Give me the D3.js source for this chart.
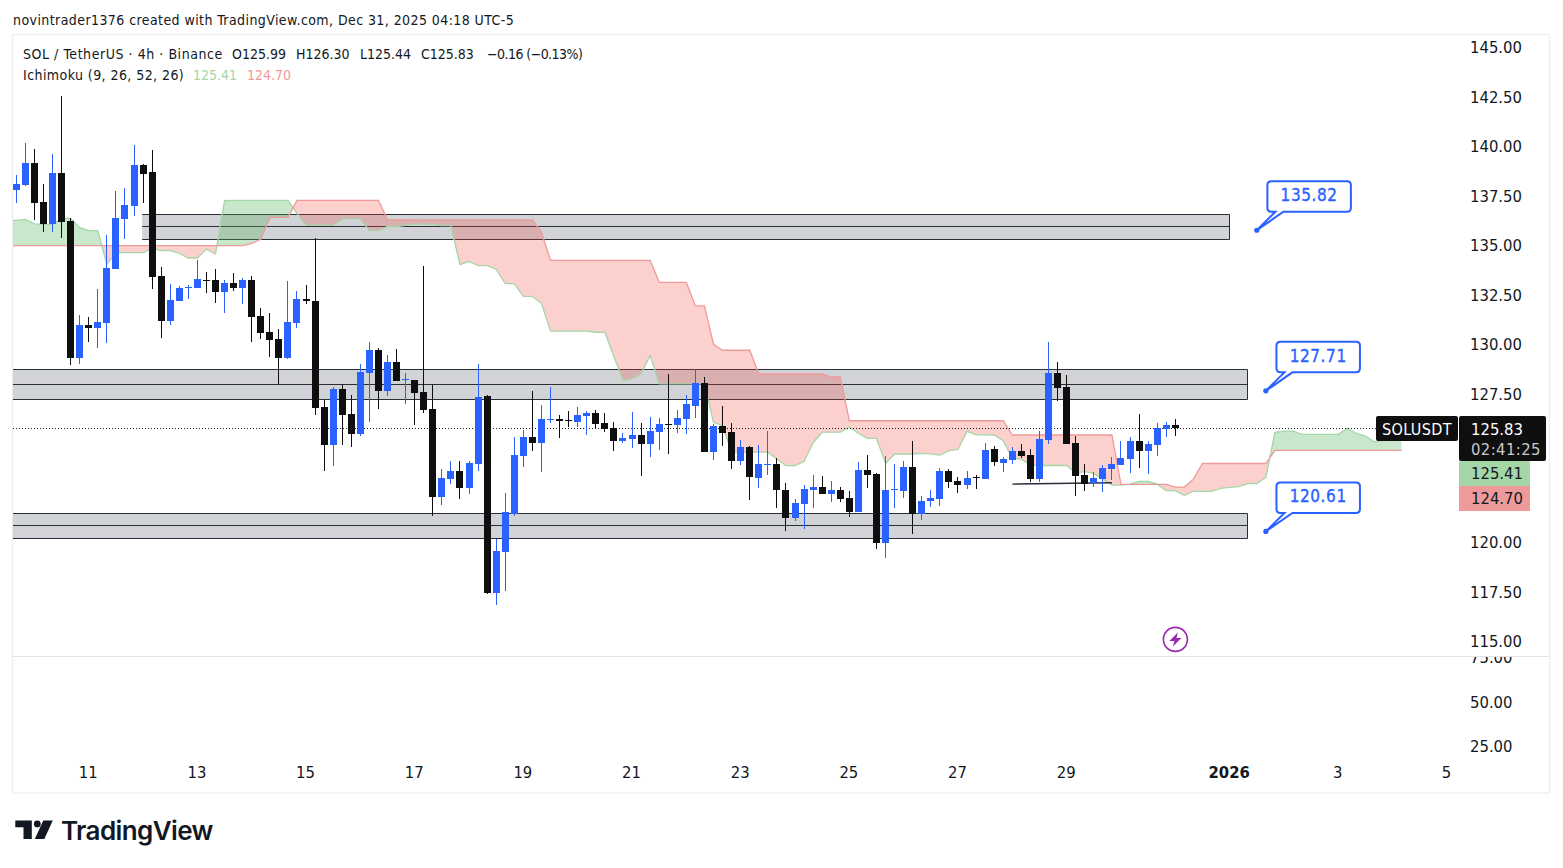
<!DOCTYPE html>
<html>
<head>
<meta charset="utf-8">
<script src="https://cdn.jsdelivr.net/npm/d3@7"></script>
<style>
  html, body { margin: 0; padding: 0; background: #fff; overflow: hidden; }
  svg { display: block; }
  text { font-family: "DejaVu Sans", sans-serif; font-stretch: condensed; fill: #131722; }
  .axis .domain { display: none; }
  .axis line { display: none; }
  .axis text { font-size: 16.5px; fill: #131722; font-family: "DejaVu Sans", sans-serif; font-stretch: condensed; }
</style>
</head>
<body>
<div id="chart"></div>
<script>
"use strict";

// candles, 4h bars
const opens = [
  137.85,138.11,139.22,137.25,136.14,138.71,136.29,129.37,131.04,130.88,
  131.14,133.86,136.39,137.05,139.12,138.76,133.51,131.24,132.25,132.90,
  132.90,133.31,133.31,132.70,133.16,132.90,133.31,131.49,130.68,130.33,
  129.37,131.14,132.35,132.24,126.89,124.97,127.80,126.54,125.53,128.61,
  129.77,127.70,129.16,128.25,128.25,127.65,126.79,122.35,123.25,123.66,
  122.80,124.01,127.45,117.50,119.57,121.49,124.42,125.38,125.07,126.23,
  126.28,126.23,126.13,126.44,126.59,126.09,125.84,125.18,125.28,125.48,
  125.03,125.63,126.04,125.99,126.29,126.95,128.11,124.62,125.94,125.63,
  124.17,124.88,123.31,123.97,124.02,122.70,121.29,122.00,122.70,122.86,
  122.50,122.70,122.30,121.59,123.71,123.51,120.03,122.70,122.65,123.87,
  121.49,122.14,122.24,123.66,123.15,122.95,123.36,123.25,124.77,124.06,
  124.21,124.67,124.47,123.25,125.22,128.61,127.90,125.07,123.46,123.05,
  123.25,123.76,123.96,124.26,125.17,124.67,124.97,125.78,125.99
];
const closes = [
  138.16,139.22,137.20,136.14,138.71,136.24,129.37,131.04,130.88,131.19,
  133.92,136.44,137.10,139.12,138.66,133.46,131.24,132.30,132.90,132.96,
  133.36,133.26,132.70,133.16,132.90,133.31,131.44,130.63,130.28,129.37,
  131.19,132.35,132.25,126.84,124.97,127.80,126.49,125.53,128.66,129.77,
  127.70,129.16,128.20,128.30,127.60,126.74,122.35,123.30,123.66,122.80,
  124.06,127.40,117.50,119.62,121.59,124.47,125.38,125.07,126.28,126.28,
  126.18,126.18,126.49,126.59,126.03,125.79,125.18,125.33,125.48,125.03,
  125.68,126.04,125.99,126.34,127.05,128.11,124.62,125.94,125.58,124.17,
  124.88,123.36,124.02,124.02,122.70,121.29,122.05,122.75,122.86,122.50,
  122.70,122.25,121.59,123.71,123.46,120.03,122.70,122.75,123.87,121.49,
  122.14,122.30,123.66,123.10,122.95,123.31,123.31,124.72,124.11,124.26,
  124.67,124.42,123.25,125.27,128.61,127.85,125.02,123.41,123.00,123.31,
  123.81,124.01,124.32,125.17,124.67,125.02,125.83,125.98,125.83
];
const highs = [
  138.61,140.23,139.93,138.16,139.67,142.60,136.44,131.54,131.44,132.85,
  135.58,137.80,137.96,140.13,139.17,139.87,133.97,133.11,133.01,133.06,
  134.32,133.71,133.86,133.31,133.66,133.41,133.51,131.89,131.64,130.83,
  133.26,132.75,133.06,135.43,127.24,127.90,128.00,127.50,129.06,130.17,
  129.87,129.52,129.82,128.61,128.25,134.01,128.00,123.76,124.16,124.16,
  124.16,129.06,127.50,120.22,122.55,125.38,125.73,127.70,126.99,127.90,
  126.49,126.69,126.89,126.69,126.74,126.59,126.14,125.58,126.64,126.09,
  126.39,126.34,128.56,126.74,127.50,128.82,128.41,126.04,126.95,126.09,
  125.23,124.93,124.98,125.68,124.32,123.06,122.25,122.96,123.46,123.41,
  123.16,122.86,122.65,124.12,124.47,123.56,124.42,124.02,124.17,125.18,
  122.40,122.70,123.81,123.76,123.36,123.66,123.46,125.07,124.92,124.37,
  124.87,125.02,124.77,125.68,130.17,129.16,128.51,125.43,124.01,123.61,
  123.96,124.37,125.17,125.38,126.54,125.17,126.08,126.13,126.30
];
const lows = [
  137.21,138.06,136.34,135.73,135.73,135.43,129.02,129.07,130.18,129.87,
  130.13,133.86,135.38,136.54,137.20,132.85,130.38,131.04,132.25,132.35,
  132.90,132.65,132.15,131.64,132.75,132.10,130.18,130.33,129.42,128.06,
  129.32,130.88,132.10,126.49,123.66,123.91,124.97,124.87,125.43,126.13,
  126.79,127.45,128.20,127.04,125.98,126.59,121.39,121.94,123.00,122.24,
  122.50,123.66,117.45,116.89,117.60,121.39,123.86,124.67,123.61,126.08,
  125.33,125.88,125.88,125.48,125.78,125.63,124.67,125.08,124.83,123.41,
  124.37,124.72,124.52,125.58,125.53,126.34,124.62,124.22,124.93,123.76,
  123.97,122.20,122.81,123.46,121.80,120.63,121.14,120.73,121.80,122.50,
  122.10,122.10,121.34,121.59,122.81,119.72,119.27,121.80,122.30,120.48,
  121.18,121.84,121.89,122.80,122.55,122.75,122.75,123.25,123.91,123.61,
  124.01,124.32,123.10,123.10,125.02,127.19,125.02,122.40,122.65,122.85,
  122.60,123.20,123.96,123.56,123.81,123.51,124.42,125.38,125.44
];

// ichimoku leading spans, first value is the bar before the first candle,
// they run 25 bars past the last candle
const leadA = [
  136.32,
  136.32,136.37,136.14,136.12,136.12,136.42,136.42,135.95,135.80,135.80,
  134.10,134.69,134.69,134.69,134.69,134.91,134.79,134.79,134.66,134.42,
  134.42,134.87,134.62,137.32,137.33,137.33,137.33,137.33,137.33,137.33,
  137.33,136.67,136.07,136.07,136.07,136.07,136.40,136.40,136.40,135.80,
  135.80,136.01,136.01,136.07,136.13,136.13,136.12,136.05,136.05,134.08,
  134.25,134.03,134.03,133.85,133.12,133.12,132.48,132.48,132.13,130.73,
  130.73,130.73,130.73,130.73,130.67,130.67,129.44,128.24,128.31,128.56,
  129.50,128.06,128.06,128.06,128.06,128.06,128.06,126.12,125.95,124.61,
  124.61,124.61,124.61,124.61,124.27,123.93,123.93,124.14,125.09,125.62,
  125.62,125.62,125.87,125.57,125.31,125.31,124.05,124.51,124.52,124.52,
  124.55,124.53,124.47,124.69,124.75,125.66,125.49,125.49,125.48,125.19,
  124.30,124.26,123.96,123.94,123.94,123.94,123.94,123.57,123.63,123.54,
  123.25,122.95,122.95,123.00,123.14,123.14,123.00,122.67,122.67,122.43,
  122.63,122.63,122.63,122.78,122.83,122.87,123.02,123.02,123.34,125.61,
  125.68,125.68,125.51,125.51,125.51,125.51,125.51,125.81,125.56,125.43,
  125.12,125.24,125.32,125.41
];
const leadB = [
  135.04,
  135.04,135.04,135.04,135.04,135.04,135.04,135.04,135.04,135.04,135.04,
  135.04,135.04,135.04,135.04,135.04,135.04,135.04,135.04,135.04,135.04,
  135.04,135.04,135.04,135.04,135.04,135.04,135.16,135.36,136.47,136.47,
  136.47,137.33,137.33,137.33,137.33,137.33,137.33,137.33,137.33,137.33,
  137.33,136.34,136.34,136.34,136.34,136.34,136.34,136.34,136.34,136.34,
  136.34,136.34,136.34,136.34,136.34,136.34,136.34,136.34,135.72,134.30,
  134.30,134.30,134.30,134.30,134.30,134.30,134.30,134.30,134.30,134.30,
  134.30,133.19,133.19,133.19,133.19,132.00,132.00,130.06,129.76,129.76,
  129.76,129.76,128.56,128.56,128.56,128.56,128.56,128.56,128.56,128.56,
  128.41,128.41,126.20,126.20,126.20,126.20,126.20,126.20,126.20,126.20,
  126.20,126.20,126.20,126.20,126.20,126.20,126.20,126.20,126.20,126.20,
  125.48,125.48,125.48,125.48,125.48,125.48,125.48,125.48,125.48,125.48,
  125.48,125.48,122.99,122.99,122.99,122.99,122.99,122.99,122.85,122.85,
  123.25,124.04,124.04,124.04,124.04,124.04,124.04,124.04,124.04,124.70,
  124.70,124.70,124.70,124.70,124.70,124.70,124.70,124.70,124.70,124.70,
  124.70,124.70,124.70,124.70
];

// drawn zones: [top, middle, bottom] in price, bar index start and end
const zoneLevels = [[136.63, 136.02, 135.36], [128.80, 128.04, 127.28], [121.53, 120.93, 120.26]];
const zoneBars = [[13.9, 134], [-5, 136], [-5, 136]];

const calloutBars = [137, 138, 138];
const calloutPrices = [135.82, 127.71, 120.61];

const trendBars = [110.0, 121];
const trendPrices = [123.0, 123.07];

// 125.00 and 122.50 sit under the price labels, so they are not drawn
const priceTicks = [145, 142.5, 140, 137.5, 135, 132.5, 130, 127.5, 120, 117.5, 115];
const volumeTicks = [75, 50, 25];
const dateBars = [8, 20, 32, 44, 56, 68, 80, 92, 104, 116, 134, 146, 158];
const dateLabels = ["11", "13", "15", "17", "19", "21", "23", "25", "27", "29", "2026", "3", "5"];

const lastPrice = 125.83;

const width = 1563;
const height = 868;
const upColor = "#2962ff";
const downColor = "#0f0f0f";

const svg = d3.select("#chart").append("svg").attr("width", width).attr("height", height);

const x = d3.scaleLinear().domain([0, 128]).range([16.3, 1175.3]);
const y = d3.scaleLinear().domain([145, 115]).range([48.5, 642.5]);
const yVolume = d3.scaleLinear().domain([75, 25]).range([657.5, 746.5]);

const crisp = (v) => Math.round(v);
const centerX = (i) => Math.floor(x(i)) + 0.5;

const defs = svg.append("defs");
defs.append("clipPath").attr("id", "plotClip")
  .append("rect").attr("x", 13).attr("y", 35).attr("width", 1445).attr("height", 621);
defs.append("clipPath").attr("id", "volumeClip")
  .append("rect").attr("x", 1460).attr("y", 657).attr("width", 90).attr("height", 130);

///////////////////////////////////
// frame and pane separator
///////////////////////////////////

svg.append("rect")
  .attr("x", 12.5).attr("y", 34.5).attr("width", 1537).attr("height", 758.5)
  .attr("fill", "none").attr("stroke", "#f0f0f2").attr("stroke-width", 1.5);
svg.append("line")
  .attr("x1", 13).attr("x2", 1549).attr("y1", 656.5).attr("y2", 656.5)
  .attr("stroke", "#e0e3eb");

const plot = svg.append("g").attr("clip-path", "url(#plotClip)");

///////////////////////////////////
// grey zones
///////////////////////////////////

zoneLevels.forEach((levels, k) => {
  const left = x(zoneBars[k][0]);
  const right = crisp(x(zoneBars[k][1])) - 0.5;
  const top = crisp(y(levels[0])) + 0.5;
  const mid = crisp(y(levels[1])) + 0.5;
  const bottom = crisp(y(levels[2])) + 0.5;
  plot.append("rect")
    .attr("x", left).attr("y", top)
    .attr("width", right - left).attr("height", bottom - top)
    .attr("fill", "#d2d3d7");
  // no border on the left side
  plot.append("path")
    .attr("d", `M${left},${top}H${right}V${bottom}H${left}M${left},${mid}H${right}`)
    .attr("fill", "none").attr("stroke", "#2a2e39");
});

///////////////////////////////////
// ichimoku cloud
///////////////////////////////////

const cloudBars = leadA.map((v, k) => k - 1);
const spanA = (i) => y(leadA[i + 1]);
const spanB = (i) => y(leadB[i + 1]);

defs.append("clipPath").attr("id", "aboveB").append("path")
  .attr("d", d3.area().x((i) => x(i)).y0(0).y1(spanB)(cloudBars));
defs.append("clipPath").attr("id", "belowB").append("path")
  .attr("d", d3.area().x((i) => x(i)).y0(height).y1(spanB)(cloudBars));

const cloudArea = d3.area().x((i) => x(i)).y0(spanB).y1(spanA);

plot.append("g").attr("clip-path", "url(#aboveB)").append("path")
  .attr("d", cloudArea(cloudBars))
  .attr("fill", "#4caf50").attr("fill-opacity", 0.3);
plot.append("g").attr("clip-path", "url(#belowB)").append("path")
  .attr("d", cloudArea(cloudBars))
  .attr("fill", "#f44336").attr("fill-opacity", 0.25);

plot.append("path")
  .attr("d", d3.line().x((i) => x(i)).y(spanA)(cloudBars))
  .attr("fill", "none").attr("stroke", "#a5d6a7").attr("stroke-width", 1.3);
plot.append("path")
  .attr("d", d3.line().x((i) => x(i)).y(spanB)(cloudBars))
  .attr("fill", "none").attr("stroke", "#ef9a9a").attr("stroke-width", 1.3);

// last price dotted line
plot.append("line")
  .attr("x1", 13).attr("x2", 1376)
  .attr("y1", crisp(y(lastPrice)) + 0.5).attr("y2", crisp(y(lastPrice)) + 0.5)
  .attr("stroke", "#131722").attr("stroke-dasharray", "1 2");

// trend line by hand
plot.append("line")
  .attr("x1", x(trendBars[0])).attr("x2", x(trendBars[1]))
  .attr("y1", y(trendPrices[0])).attr("y2", y(trendPrices[1]))
  .attr("stroke", "#2a2e39").attr("stroke-width", 1.4);

///////////////////////////////////
// candles
///////////////////////////////////

const candleData = opens.map((o, i) => ({ i, o, h: highs[i], l: lows[i], c: closes[i] }));
const candleColor = (d) => (d.c >= d.o ? upColor : downColor);

const candles = plot.selectAll(".candle").data(candleData).enter().append("g")
  .attr("class", "candle").attr("shape-rendering", "crispEdges");
candles.append("line")
  .attr("x1", (d) => centerX(d.i)).attr("x2", (d) => centerX(d.i))
  .attr("y1", (d) => crisp(y(d.h))).attr("y2", (d) => crisp(y(d.l)))
  .attr("stroke", candleColor).attr("stroke-width", 1);
candles.append("rect")
  .attr("x", (d) => centerX(d.i) - 3.5)
  .attr("y", (d) => crisp(y(Math.max(d.o, d.c))))
  .attr("width", 7)
  .attr("height", (d) => Math.max(1, crisp(y(Math.min(d.o, d.c))) - crisp(y(Math.max(d.o, d.c)))))
  .attr("fill", candleColor);

///////////////////////////////////
// callouts
///////////////////////////////////

calloutPrices.forEach((price, k) => {
  const ax = x(calloutBars[k]);
  const ay = y(price);
  const g = svg.append("g").attr("transform", `translate(${ax},${ay})`);
  const l = 10.6, t = -49, r = l + 83.5, b = t + 30.5, c = 4;
  const p = d3.path();
  p.moveTo(l + c, t);
  p.lineTo(r - c, t);
  p.quadraticCurveTo(r, t, r, t + c);
  p.lineTo(r, b - c);
  p.quadraticCurveTo(r, b, r - c, b);
  p.lineTo(l + 16, b);
  p.lineTo(0, 0);
  p.lineTo(l + 8, b);
  p.lineTo(l + c, b);
  p.quadraticCurveTo(l, b, l, b - c);
  p.lineTo(l, t + c);
  p.quadraticCurveTo(l, t, l + c, t);
  p.closePath();
  g.append("path").attr("d", p.toString())
    .attr("fill", "#fff").attr("stroke", upColor).attr("stroke-width", 2);
  g.append("circle").attr("r", 2.6).attr("fill", upColor);
  g.append("text")
    .attr("x", (l + r) / 2).attr("y", (t + b) / 2 + 4.5)
    .attr("text-anchor", "middle")
    .style("fill", upColor).style("stroke", upColor).style("stroke-width", 0.35)
    .style("font-size", "17px").style("letter-spacing", "0.6px")
    .text(price.toFixed(2));
});

///////////////////////////////////
// axes
///////////////////////////////////

const priceAxis = d3.axisRight(y)
  .tickValues(priceTicks).tickFormat(d3.format(".2f")).tickSize(0).tickPadding(0);
svg.append("g").attr("class", "axis").attr("transform", "translate(1470,-1)").call(priceAxis);

const volumeAxis = d3.axisRight(yVolume)
  .tickValues(volumeTicks).tickFormat(d3.format(".2f")).tickSize(0).tickPadding(0);
svg.append("g").attr("clip-path", "url(#volumeClip)")
  .append("g").attr("class", "axis").attr("transform", "translate(1470,0)").call(volumeAxis);

const dateAxis = d3.axisBottom(x)
  .tickValues(dateBars).tickFormat((d, i) => dateLabels[i]).tickSize(0).tickPadding(0);
const dateG = svg.append("g").attr("class", "axis").attr("transform", "translate(-1,766)").call(dateAxis);
dateG.selectAll("text").style("font-weight", (d, i) => (dateLabels[i] === "2026" ? "bold" : "normal"));

///////////////////////////////////
// price labels on the right
///////////////////////////////////

const labels = svg.append("g");
labels.append("rect").attr("x", 1376).attr("y", 416).attr("width", 82).attr("height", 25)
  .attr("rx", 2).attr("fill", "#0f0f0f");
labels.append("text").attr("x", 1417).attr("y", 435).attr("text-anchor", "middle")
  .style("fill", "#fff").style("font-size", "16px").style("letter-spacing", "0.4px").text("SOLUSDT");
labels.append("rect").attr("x", 1459).attr("y", 416).attr("width", 87).attr("height", 45)
  .attr("rx", 2).attr("fill", "#0f0f0f");
labels.append("text").attr("x", 1471).attr("y", 435)
  .style("fill", "#fff").style("font-size", "16.5px").text("125.83");
labels.append("text").attr("x", 1471).attr("y", 455)
  .style("fill", "#c9c9c9").style("font-size", "16.5px").style("letter-spacing", "0.4px").text("02:41:25");
labels.append("rect").attr("x", 1459).attr("y", 461).attr("width", 71).attr("height", 25)
  .attr("fill", "#a5d6a7");
labels.append("text").attr("x", 1471).attr("y", 479)
  .style("fill", "#131722").style("font-size", "16.5px").text("125.41");
labels.append("rect").attr("x", 1459).attr("y", 486).attr("width", 71).attr("height", 25)
  .attr("fill", "#ef9a9a");
labels.append("text").attr("x", 1471).attr("y", 504)
  .style("fill", "#131722").style("font-size", "16.5px").text("124.70");

///////////////////////////////////
// legend and header text
///////////////////////////////////

svg.append("text").attr("x", 13).attr("y", 25).style("font-size", "14px").style("letter-spacing", "0.42px")
  .text("novintrader1376 created with TradingView.com, Dec 31, 2025 04:18 UTC-5");

const legendItems = [
  ["SOL / TetherUS · 4h · Binance", 23, 0.55],
  ["O125.99", 232, 0],
  ["H126.30", 296, 0],
  ["L125.44", 360, 0],
  ["C125.83", 421, 0],
  ["−0.16 (−0.13%)", 487, -0.55],
];
legendItems.forEach(([label, lx, spacing]) => {
  svg.append("text").attr("x", lx).attr("y", 59)
    .style("font-size", "14px").style("letter-spacing", spacing + "px").text(label);
});
svg.append("text").attr("x", 23).attr("y", 80).style("font-size", "14px").style("letter-spacing", "0.43px")
  .text("Ichimoku (9, 26, 52, 26)");
svg.append("text").attr("x", 193).attr("y", 80).style("font-size", "14px").style("fill", "#a5d6a7").text("125.41");
svg.append("text").attr("x", 247).attr("y", 80).style("font-size", "14px").style("fill", "#ef9a9a").text("124.70");

///////////////////////////////////
// lightning mark and logo
///////////////////////////////////

const bolt = svg.append("g").attr("transform", "translate(1175.4,639.4)");
bolt.append("circle").attr("r", 12).attr("fill", "#fff").attr("stroke", "#9c27b0").attr("stroke-width", 1.6);
bolt.append("path").attr("d", "M2.5,-7 L-6,1.5 L-1,1.5 L-2.5,7 L6,-1.5 L1,-1.5 Z").attr("fill", "#9c27b0");

const logo = svg.append("g").attr("transform", "translate(15.3,820.5)").attr("fill", "#131722");
logo.append("path").attr("d", "M0,0 H16.5 V18.5 H8.2 V6.8 H0 Z");
logo.append("circle").attr("cx", 22).attr("cy", 3.4).attr("r", 3.4);
logo.append("path").attr("d", "M28,0 H37.5 L29,18.5 H19.5 Z");
svg.append("text").attr("x", 61).attr("y", 840)
  .style("font-family", "Inter, sans-serif").style("font-stretch", "normal")
  .style("font-size", "26px").style("font-weight", "600").style("letter-spacing", "-0.6px")
  .text("TradingView");
</script>
</body>
</html>
